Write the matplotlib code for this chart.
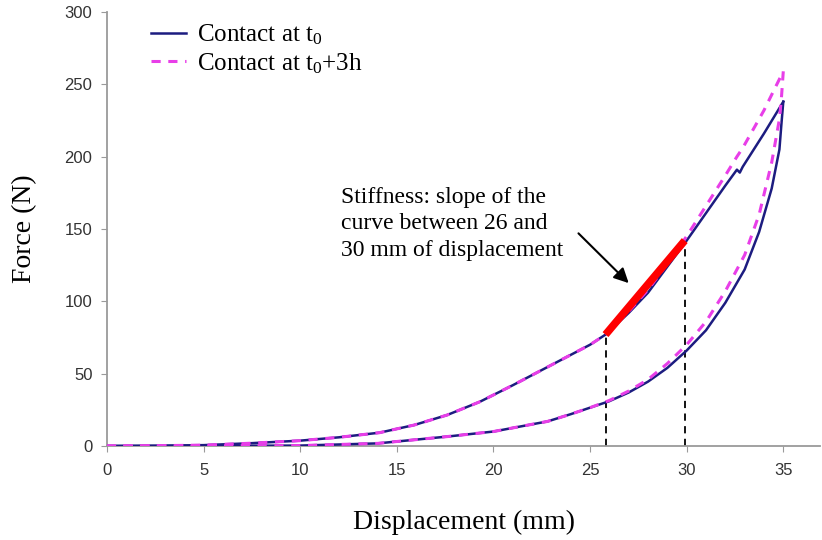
import matplotlib
matplotlib.use("Agg")
import matplotlib.pyplot as plt

plt.rcParams['mathtext.fontset'] = 'custom'
plt.rcParams['mathtext.rm'] = 'Liberation Serif'

# Loading curves (upper branch)
load_x = [0, 2.5, 5, 7.4, 10, 12, 14.1, 15.9, 17.6, 19.3, 21, 22, 23, 24, 25, 25.8,
          27, 28, 29, 30, 31, 32, 32.6, 32.75, 32.9, 34, 35]
load_t0 = [0, 0.2, 0.6, 1.9, 3.7, 6, 9.2, 14.5, 21.4, 30.6, 42, 49, 56, 63, 70, 77,
           92, 106, 124, 142, 161, 180, 191, 189, 193, 216, 238]
load_t3 = [0, 0.2, 0.6, 1.9, 3.7, 6, 9.2, 14.5, 21.4, 30.6, 42, 49, 56, 63, 70, 77,
           93, 108, 126, 145, 166, 187, 200, 203, 206, 232, 259]

# Unloading curves (lower branch)
unload_x = [35, 34.9, 34.8, 34.4, 33.75, 33, 32, 31, 30, 29, 28, 27, 26, 25, 24, 22.8,
            20, 17.6, 14, 10, 5, 0]
unload_t0 = [238, 222, 205, 178, 148, 122, 99, 80, 66, 54, 44.5, 37, 31, 26.5, 22, 17,
             10, 6.5, 1.8, 0.3, 0.1, 0]
unload_t3 = [259, 240, 226, 196, 160, 132, 107, 86, 70, 57, 46, 38, 31.5, 26.5, 22, 17,
             10, 6.5, 1.8, 0.3, 0.1, 0]

# Stiffness segment
stiff_x = [25.8, 29.9]
stiff_f = [77, 142]

navy = "#1c1c80"
pink = "#e83ee8"

fig = plt.figure(figsize=(8.22, 5.40), dpi=100)
ax = fig.add_axes([107 / 822, 94 / 540, 713 / 822, 434 / 540])

ax.plot(load_x, load_t0, color=navy, lw=1.8, label="Contact at $\\mathrm{t_0}$", zorder=3)
ax.plot(unload_x, unload_t0, color=navy, lw=1.8, zorder=3)
ax.plot(load_x, load_t3, color=pink, lw=2.2, ls=(0, (3, 2.5)),
        label="Contact at $\\mathrm{t_0}$+3h", zorder=4)
ax.plot(unload_x, unload_t3, color=pink, lw=2.2, ls=(0, (3, 2.5)), zorder=4)

# dashed guides and the red slope segment
for xv, fv in zip(stiff_x, stiff_f):
    ax.plot([xv, xv], [0, fv], color="black", lw=1.3, ls=(0, (4, 3)), zorder=2)
ax.plot(stiff_x, stiff_f, color="red", lw=5.5, solid_capstyle="butt", zorder=5)

ax.annotate("", xy=(27.0, 112.6), xytext=(24.4, 147),
            arrowprops=dict(arrowstyle="-|>", color="black", lw=1.5,
                            mutation_scale=22, shrinkA=0, shrinkB=0))
ax.text(12.1, 179, "Stiffness: slope of the\ncurve between 26 and\n30 mm of displacement",
        fontsize=17, family="Liberation Serif", va="top", ha="left", linespacing=1.34)

ax.set_xlim(0, 36.9)
ax.set_ylim(0, 300)
ax.set_xticks(range(0, 36, 5))
ax.set_yticks(range(0, 301, 50))
for s in ["top", "right"]:
    ax.spines[s].set_visible(False)
for s in ["left", "bottom"]:
    ax.spines[s].set_color("#9a9a9a")
    ax.spines[s].set_linewidth(1.3)
ax.tick_params(direction="out", length=4, color="#9a9a9a", labelsize=12,
               labelcolor="#333333")
ax.tick_params(axis="x", pad=8.5)
ax.tick_params(axis="y", pad=6.5)
for lab in ax.get_xticklabels() + ax.get_yticklabels():
    lab.set_family("Liberation Sans")

ax.set_xlabel("Displacement (mm)", fontsize=20, family="Liberation Serif", labelpad=23)
ax.set_ylabel("Force (N)", fontsize=20, family="Liberation Serif", labelpad=19.5)

leg = ax.legend(loc="upper left", bbox_to_anchor=(0.062, 0.975), frameon=False,
                prop=dict(family="Liberation Serif", size=18), handlelength=1.4,
                handletextpad=0.45, labelspacing=0.15, borderpad=0, borderaxespad=0)

fig.savefig("out.png", dpi=100)
